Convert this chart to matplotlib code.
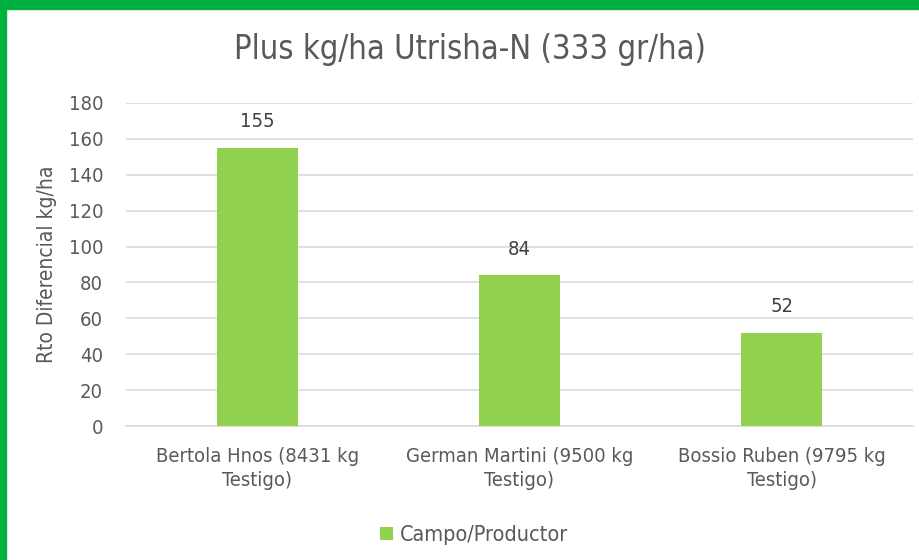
import matplotlib.pyplot as plt
from matplotlib.patches import Rectangle

categories = ["Bertola Hnos (8431 kg\nTestigo)", "German Martini (9500 kg\nTestigo)",
              "Bossio Ruben (9795 kg\nTestigo)"]
values = [155, 84, 52]
series_name = "Campo/Productor"
title = "Plus kg/ha Utrisha-N (333 gr/ha)"
ylabel = "Rto Diferencial kg/ha"

plt.rcParams['font.family'] = ['DejaVu Sans']
plt.rcParams['font.stretch'] = 'condensed'
text_color = "#595959"

fig = plt.figure(figsize=(9.19, 5.60), dpi=100)
ax = fig.add_axes([126 / 919, 1 - 426 / 560, 787 / 919, 323 / 560])

x = range(len(categories))
bars = ax.bar(x, values, width=0.31, color="#92D050", label=series_name, zorder=3)
for b, v in zip(bars, values):
    ax.text(b.get_x() + b.get_width() / 2, v + 14.5, str(v), ha="center", va="center",
            fontsize=14.5, color="#404040")

ax.set_xlim(-0.5, len(categories) - 0.5)
ax.set_ylim(0, 180)
ax.set_yticks(range(0, 181, 20))
ax.set_xticks(list(x))
ax.set_xticklabels(categories, fontsize=14.5, color=text_color, linespacing=1.35)
ax.tick_params(axis="y", labelsize=14.5, labelcolor=text_color, length=0, pad=16.5)
ax.tick_params(axis="x", length=0, pad=15)
ax.grid(axis="y", color="#D9D9D9", linewidth=1.2, zorder=0)
for s in ["top", "right", "left"]:
    ax.spines[s].set_visible(False)
ax.spines["bottom"].set_color("#D9D9D9")
ax.spines["bottom"].set_linewidth(1.2)

ax.set_ylabel(ylabel, fontsize=15, color=text_color, labelpad=8)
fig.text(470 / 919, 1 - 50 / 560, title, ha="center", va="center", fontsize=23.5, color=text_color)

fig.legend(handles=[bars], labels=[series_name], loc="center", bbox_to_anchor=(474 / 919, 1 - 535 / 560),
           frameon=False, fontsize=15.5, labelcolor=text_color, handlelength=0.6, handleheight=0.6,
           handletextpad=0.35)

# green frame on top and left
fig.patches.append(Rectangle((0, 1 - 9 / 560), 1, 9 / 560, transform=fig.transFigure,
                             color="#00B140", zorder=10))
fig.patches.append(Rectangle((0, 0), 6 / 919, 1, transform=fig.transFigure,
                             color="#00B140", zorder=10))

fig.savefig("out.png", dpi=100, facecolor="white")
